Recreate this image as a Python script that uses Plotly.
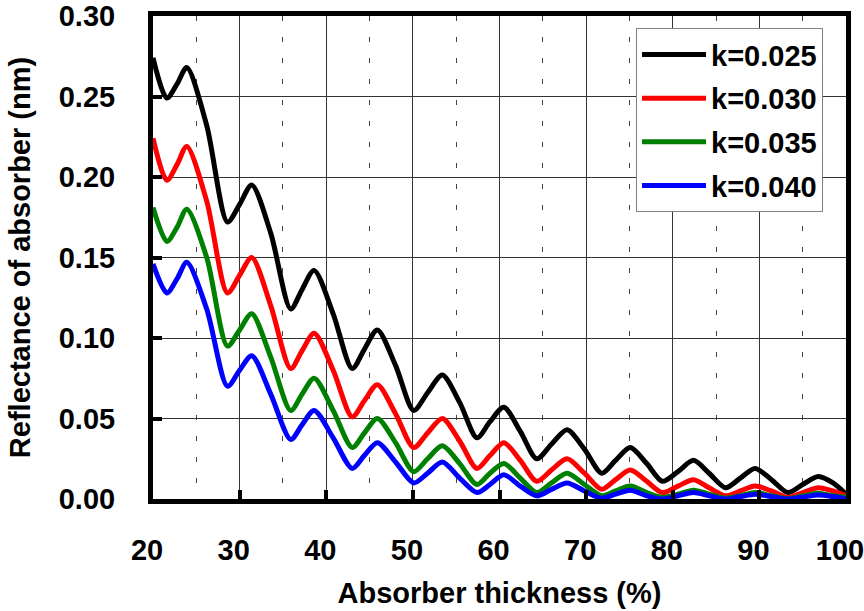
import plotly.graph_objects as go

thickness = [20, 21.6, 22.8, 23.9, 26.2, 28.6, 30.0, 31.4, 33.6, 35.9, 37.2, 38.6, 40.8, 43.0,
             44.4, 45.9, 48.0, 50.1, 51.7, 53.4, 55.4, 57.4, 58.9, 60.5, 62.4, 64.3, 66.0, 67.8,
             69.8, 71.8, 73.4, 75.1, 77.0, 78.8, 80.6, 82.4, 84.2, 86.1, 87.8, 89.5, 91.4, 93.3,
             95.0, 96.8, 98.5, 100]

k025 = [0.274, 0.249, 0.258, 0.268, 0.232, 0.172, 0.183, 0.195, 0.165, 0.118, 0.130, 0.142,
        0.115, 0.081, 0.093, 0.105, 0.083, 0.055, 0.066, 0.077, 0.060, 0.038, 0.048, 0.057,
        0.042, 0.025, 0.034, 0.043, 0.031, 0.016, 0.024, 0.032, 0.022, 0.011, 0.017, 0.024,
        0.016, 0.007, 0.013, 0.019, 0.012, 0.004, 0.009, 0.014, 0.010, 0.003]

k030 = [0.224, 0.198, 0.208, 0.219, 0.185, 0.128, 0.139, 0.150, 0.120, 0.081, 0.092, 0.103,
        0.080, 0.051, 0.061, 0.071, 0.053, 0.032, 0.041, 0.050, 0.036, 0.019, 0.027, 0.035,
        0.024, 0.011, 0.018, 0.025, 0.016, 0.006, 0.012, 0.018, 0.011, 0.004, 0.008, 0.012,
        0.007, 0.002, 0.005, 0.008, 0.005, 0.001, 0.004, 0.007, 0.005, 0.002]

k035 = [0.181, 0.160, 0.169, 0.180, 0.150, 0.095, 0.105, 0.115, 0.088, 0.055, 0.065, 0.075,
        0.055, 0.032, 0.041, 0.050, 0.035, 0.017, 0.025, 0.033, 0.022, 0.009, 0.016, 0.022,
        0.013, 0.004, 0.010, 0.016, 0.009, 0.002, 0.005, 0.008, 0.004, 0.001, 0.003, 0.0055,
        0.003, 0.0005, 0.002, 0.004, 0.002, 0.0003, 0.002, 0.0035, 0.002, 0.001]

k040 = [0.146, 0.128, 0.137, 0.147, 0.118, 0.070, 0.080, 0.089, 0.065, 0.037, 0.046, 0.055,
        0.038, 0.019, 0.027, 0.035, 0.023, 0.010, 0.016, 0.023, 0.013, 0.004, 0.009, 0.015,
        0.008, 0.002, 0.006, 0.010, 0.005, 0.0005, 0.003, 0.0055, 0.002, 0.0, 0.002, 0.004,
        0.002, 0.0, 0.0015, 0.003, 0.0015, 0.0, 0.0012, 0.0025, 0.0015, 0.0]

series = [("k=0.025", k025, "#000000"), ("k=0.030", k030, "#ff0000"),
          ("k=0.035", k035, "#008000"), ("k=0.040", k040, "#0000ff")]

FONT = "Liberation Sans, Arial, sans-serif"

fig = go.Figure()
for i, (name, vals, col) in enumerate(series):
    fig.add_trace(go.Scatter(x=thickness, y=vals, name=name, mode="lines",
                             line=dict(color=col, width=5, shape="spline", smoothing=0.8),
                             legendgroup=str(i)))

fig.update_layout(
    width=864, height=611,
    margin=dict(l=153, r=18, t=16, b=112, autoexpand=False),
    paper_bgcolor="white", plot_bgcolor="white",
    font=dict(family=FONT, size=29, color="black", weight="bold"),
    showlegend=True,
    legend=dict(x=0.697, y=0.975, xanchor="left", yanchor="top",
                bgcolor="white", bordercolor="#808080", borderwidth=1,
                font=dict(family=FONT, size=29, color="black", weight="bold"),
                itemwidth=64, tracegroupgap=3),
)

fig.update_xaxes(
    range=[20, 100], dtick=10, tick0=20,
    showline=True, linecolor="black", linewidth=5, mirror=True,
    ticks="inside", ticklen=9, tickwidth=4, tickcolor="black",
    showgrid=True, gridcolor="#333333", gridwidth=1,
    zeroline=False, automargin=False, ticklabeloverflow="allow",
    ticklabelstandoff=21, ticklabelshift=-6,
    tickfont=dict(family=FONT, size=29, color="black", weight="bold"),
    minor=dict(dtick=5, tick0=20, showgrid=True, gridcolor="#444444", gridwidth=1,
               griddash="5px,16px", ticks=""),
    title=dict(text="Absorber thickness (%)", standoff=19,
               font=dict(family=FONT, size=29, color="black", weight="bold")),
)

fig.update_yaxes(
    range=[0, 0.30], dtick=0.05, tick0=0, tickformat=".2f",
    showline=True, linecolor="black", linewidth=5, mirror=True,
    ticks="inside", ticklen=9, tickwidth=4, tickcolor="black",
    showgrid=True, gridcolor="#333333", gridwidth=1,
    zeroline=False, automargin=False, ticklabeloverflow="allow",
    ticklabelstandoff=27,
    tickfont=dict(family=FONT, size=29, color="black", weight="bold"),
    title=dict(text="Reflectance of absorber (nm)", standoff=21,
               font=dict(family=FONT, size=29, color="black", weight="bold")),
)

fig.write_html("out.html")
